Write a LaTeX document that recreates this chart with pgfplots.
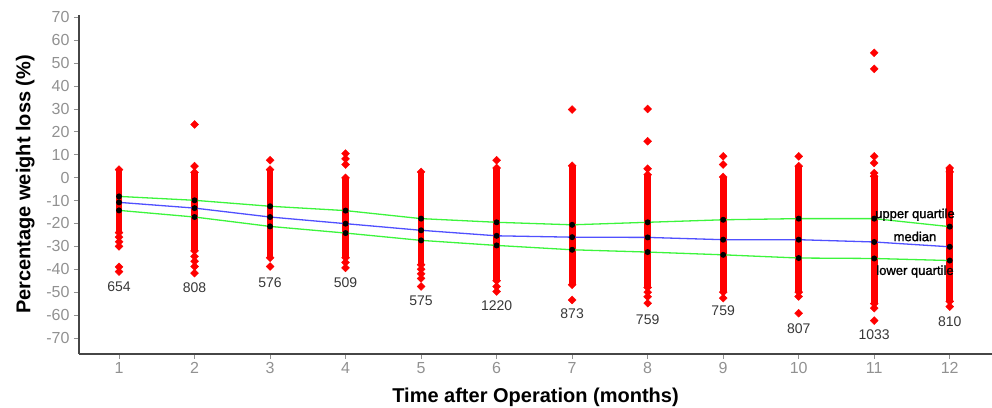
\documentclass[border=0pt]{standalone}
\usepackage{fontspec}
\setmainfont{Liberation Sans}
\newfontfamily\annot[FakeBold=1.3]{Liberation Sans}
\usepackage{pgfplots}
\usepackage{pgfplotstable}
\pgfplotsset{compat=1.18}

\definecolor{ptred}{RGB}{255,0,0}
\definecolor{qgreen}{RGB}{60,245,60}
\definecolor{mblue}{RGB}{80,80,255}
\definecolor{tickgray}{RGB}{145,145,145}
\definecolor{spine}{RGB}{70,70,70}
\definecolor{cnt}{RGB}{55,55,55}

% dense part of each month's column, as segments
\pgfplotstableread{
x y
1 -24
1 3.5
1 nan
2 -32
2 2.3
2 nan
3 -35
3 3.5
3 nan
4 -35
4 -0.1
4 nan
5 -38
5 2.5
5 nan
6 -45
6 4.2
6 nan
7 -46.8
7 5.2
7 nan
8 -48
8 1.3
8 nan
9 -50
9 0.3
9 nan
10 -50
10 5
10 nan
11 -55
11 0.6
11 nan
12 -54
12 4.2
}\dense

% single points (ends of the columns and outliers)
\pgfplotstableread{
x y
1 3.5
1 -24
1 -26
1 -28
1 -30
1 -39
1 -41
2 23.2
2 5
2 2.3
2 -32
2 -34.4
2 -36.5
2 -38.8
2 -41.7
3 7.6
3 3.5
3 -35
3 -38.8
4 10.5
4 8.2
4 5.7
4 -0.1
4 -35
4 -37
4 -39.4
5 2.5
5 -38
5 -40
5 -42
5 -44
5 -47.5
6 7.6
6 4.2
6 -45
6 -47.5
6 -49.7
7 29.7
7 5.2
7 -46.8
7 -53.4
8 30
8 15.9
8 3.9
8 1.3
8 -48
8 -50
8 -52
8 -54.8
9 9.3
9 5.7
9 0.3
9 -50
9 -52.6
10 9.3
10 5
10 -50
10 -51.9
10 -59.2
11 54.5
11 47.5
11 9.3
11 6.4
11 2.0
11 0.6
11 -55
11 -57
11 -62.4
12 4.2
12 2.5
12 -54
12 -56.3
}\outl

\pgfplotstableread{
x upper median lower
1 -8.2 -10.8 -14.3
2 -9.9 -13.3 -17.2
3 -12.5 -17.2 -21.3
4 -14.4 -20.1 -24.2
5 -17.9 -23.0 -27.4
6 -19.5 -25.4 -29.6
7 -20.6 -26.0 -31.5
8 -19.5 -26.1 -32.5
9 -18.4 -27.1 -33.7
10 -17.9 -27.1 -35.1
11 -17.9 -28.1 -35.3
12 -21.4 -30.2 -36.2
}\quart

\pgfplotstableread{
x y n
1 -47.8 654
2 -48.2 808
3 -45.8 576
4 -45.8 509
5 -53.8 575
6 -55.8 1220
7 -59.2 873
8 -61.8 759
9 -58.0 759
10 -65.8 807
11 -68.4 1033
12 -62.9 810
}\counts

\begin{document}
\begin{tikzpicture}
\begin{axis}[
  name=ax,
  scale only axis,
  width=913pt, height=339pt,
  xmin=0.47, xmax=12.56,
  ymin=-77, ymax=71,
  axis x line*=bottom,
  axis y line*=left,
  axis line style={spine, line width=1.3pt},
  xtick={1,2,...,12},
  ytick={-70,-60,...,70},
  tick align=outside,
  major tick length=5pt,
  tick style={tickgray, line width=0.8pt},
  ticklabel style={font=\fontsize{16}{16}\selectfont, text=tickgray},
  yticklabel style={xshift=-1pt},
  /pgf/number format/assume math mode=true,
  xlabel={Time after Operation (months)},
  ylabel={Percentage weight loss (\%)},
  xlabel style={font=\bfseries\fontsize{20}{20}\selectfont,
    at={(axis description cs:0.5,-0.127)}, anchor=center},
  ylabel style={font=\bfseries\fontsize{20}{20}\selectfont,
    at={(axis description cs:-0.059,0.5)}, anchor=center},
  unbounded coords=jump,
  clip=false,
]
\addplot[ptred, line width=6.8pt, mark=none] table[x=x, y=y] {\dense};
\addplot[only marks, mark=square*, mark size=2.8pt,
  mark options={rotate=45, fill=ptred, draw=ptred}] table[x=x, y=y] {\outl};

\addplot[qgreen, line width=1.3pt, mark=*, mark size=2.3pt,
  mark options={fill=black, draw=black}] table[x=x, y=upper] {\quart};
\addplot[qgreen, line width=1.3pt, mark=*, mark size=2.3pt,
  mark options={fill=black, draw=black}] table[x=x, y=lower] {\quart};
\addplot[mblue, line width=1.3pt, mark=*, mark size=2.3pt,
  mark options={fill=black, draw=black}] table[x=x, y=median] {\quart};

\addplot[only marks, mark=none, point meta=explicit symbolic,
  nodes near coords,
  every node near coord/.append style={anchor=center, inner sep=0pt,
    font=\fontsize{14}{14}\selectfont, text=cnt}]
  table[x=x, y=y, meta=n] {\counts};

\node[font=\annot\fontsize{13}{13}\selectfont] at (axis cs:11.54,-16.2) {upper quartile};
\node[font=\annot\fontsize{13}{13}\selectfont] at (axis cs:11.54,-25.7) {median};
\node[font=\annot\fontsize{13}{13}\selectfont] at (axis cs:11.54,-41) {lower quartile};
\end{axis}
\pgfresetboundingbox
\path[use as bounding box] ([xshift=-79pt,yshift=-54pt]ax.south west)
  rectangle ([yshift=15pt]ax.north east);
\end{tikzpicture}
\end{document}
